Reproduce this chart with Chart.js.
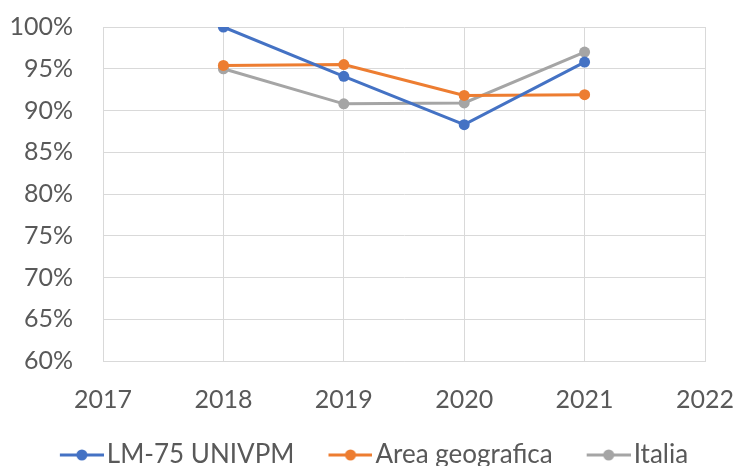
<!DOCTYPE html>
<html>
<head>
<meta charset="utf-8">
<script src="https://cdn.jsdelivr.net/npm/chart.js@4"></script>
<style>
  html, body { margin: 0; padding: 0; background: #fff; }
  #wrap { width: 737px; height: 466px; }
</style>
</head>
<body>
<div id="wrap"><canvas id="lineChart" width="737" height="466"></canvas></div>
<script>
const years = [2018, 2019, 2020, 2021];
const seriesNames = ["LM-75 UNIVPM", "Area geografica", "Italia"];
const univpm = [100, 94.1, 88.3, 95.8];
const areaGeo = [95.4, 95.5, 91.8, 91.9];
const italia = [95.0, 90.8, 90.9, 97.0];
const yTicks = [60, 65, 70, 75, 80, 85, 90, 95, 100];
const xTicks = [2017, 2018, 2019, 2020, 2021, 2022];

const colors = ["#4472C4", "#ED7D31", "#A5A5A5"];
const textColor = "#595959";
const gridColor = "#D9D9D9";

// legend marker: line with a dot, with empty room on the left for item spacing
const legendIcon = (color) => {
  const c = document.createElement("canvas");
  c.width = 69;
  c.height = 14;
  const g = c.getContext("2d");
  g.strokeStyle = color;
  g.lineWidth = 3;
  g.beginPath();
  g.moveTo(25, 7);
  g.lineTo(69, 7);
  g.stroke();
  g.fillStyle = color;
  g.beginPath();
  g.arc(47, 7, 5.5, 0, Math.PI * 2);
  g.fill();
  return c;
};

const toPoints = (vals) => vals.map((v, i) => ({ x: years[i], y: v }));

const makeSet = (label, vals, color) => ({
  label: label,
  data: toPoints(vals),
  borderColor: color,
  backgroundColor: color,
  borderWidth: 3,
  pointRadius: 5.5,
  pointHoverRadius: 5.5,
  pointBorderWidth: 0,
  tension: 0,
});

// the legend in the original sits a bit right of centre
const legendNudge = {
  id: "legendNudge",
  afterLayout: (chart) => {
    chart.legend.left += 14;
    chart.legend.right += 14;
    chart.legend.top += 2;
  },
};

new Chart("lineChart", {
  type: "line",
  data: {
    datasets: [
      makeSet(seriesNames[0], univpm, colors[0]),
      makeSet(seriesNames[1], areaGeo, colors[1]),
      makeSet(seriesNames[2], italia, colors[2]),
    ],
  },
  plugins: [legendNudge],
  options: {
    responsive: false,
    animation: false,
    layout: { padding: { top: 27, right: 32, bottom: -10, left: 0 } },
    scales: {
      x: {
        type: "linear",
        min: xTicks[0],
        max: xTicks[xTicks.length - 1],
        afterBuildTicks: (axis) => {
          axis.ticks = xTicks.map((v) => ({ value: v }));
        },
        ticks: {
          color: textColor,
          font: { family: "Lato", size: 25 },
          padding: 24,
          callback: (v) => String(v),
        },
        grid: { color: gridColor, lineWidth: 1, drawTicks: false },
        border: { color: gridColor, width: 1 },
        afterFit: (axis) => {
          axis.height = 60;
          axis.paddingLeft = 0;
          axis.paddingRight = 0;
        },
      },
      y: {
        min: yTicks[0],
        max: yTicks[yTicks.length - 1],
        afterBuildTicks: (axis) => {
          axis.ticks = yTicks.map((v) => ({ value: v }));
        },
        ticks: {
          color: textColor,
          font: { family: "Lato", size: 25 },
          padding: 30,
          callback: (v) => v + "%",
        },
        grid: { color: gridColor, lineWidth: 1, drawTicks: false },
        border: { color: gridColor, width: 1 },
        afterFit: (axis) => {
          axis.width = 103;
          axis.paddingTop = 0;
          axis.paddingBottom = 0;
        },
      },
    },
    plugins: {
      tooltip: { enabled: false },
      legend: {
        position: "bottom",
        labels: {
          color: textColor,
          font: { family: "Lato", size: 26 },
          usePointStyle: true,
          pointStyleWidth: 49,
          padding: 19,
          generateLabels: (chart) =>
            chart.data.datasets.map((ds, i) => ({
              text: ds.label,
              fillStyle: colors[i],
              strokeStyle: colors[i],
              lineWidth: 0,
              pointStyle: legendIcon(colors[i]),
              datasetIndex: i,
              fontColor: textColor,
            })),
        },
      },
    },
  },
});
</script>
</body>
</html>
